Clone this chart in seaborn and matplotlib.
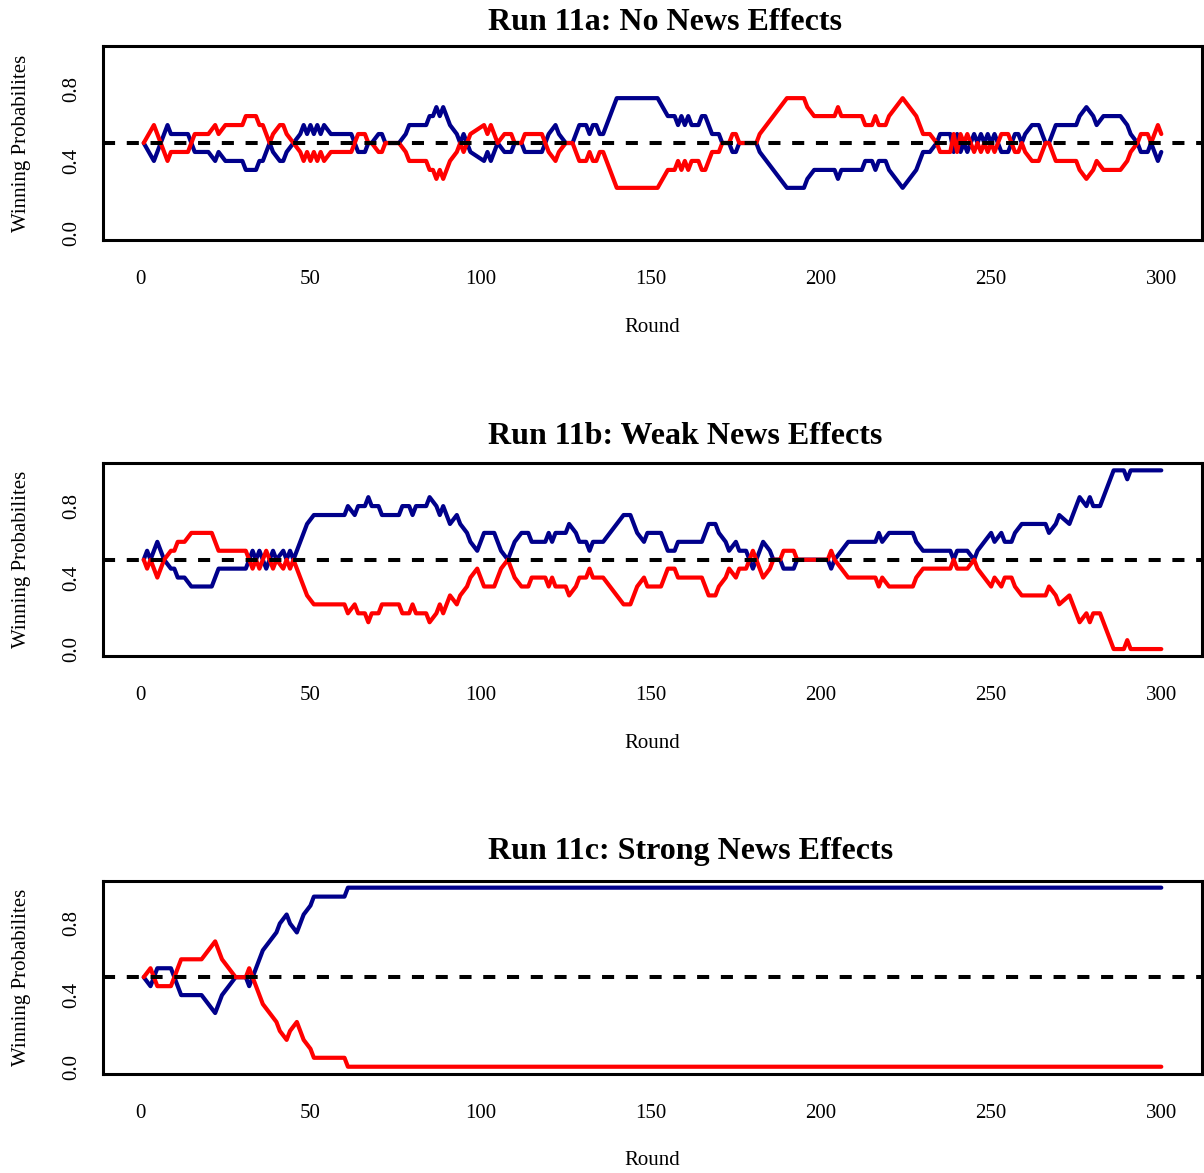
import numpy as np
import pandas as pd
import matplotlib
matplotlib.use("Agg")
import matplotlib.pyplot as plt
import seaborn as sns

# ---------------- data (key points) ----------------
titles = ["Run 11a: No News Effects", "Run 11b: Weak News Effects", "Run 11c: Strong News Effects"]

run_a_rounds = [1,4,8,9,14,16,20,22,23,25, 30,31,34,35,36,37,38,39,41,42, 43,45,47,48,49,50,51,52,53,54,
                56,62,63,64,66,67,68,70,71,72, 76,78,79,84,85,86,87,88,89,90, 91,93,94,95,96,97,101,102,103,104,
                105,107,109,110,112,113,118,119,120,122, 123,125,127,128,129,131,132,133,134,135,
                136,140,152,155,157,158,159,160,161,162, 164,165,166,167,168,170,171,173,174,175,
                176,181,182,184,186,188,190,195,196,198, 204,205,206,212,213,215,216,217,219,220,
                222,224,226,228,229,230,232,234,235,238, 239,240,241,242,243,244,245,246,247,248,
                249,250,251,252,253,255,256,257,258,259, 260,262,264,265,266,267,268,269,275,276,
                278,280,281,283,288,290,291,293,294,296, 297,298,299,300]
run_a_blue = [0.5,0.4,0.6,0.55,0.55,0.45,0.45,0.4,0.45,0.4, 0.4,0.35,0.35,0.4,0.4,0.45,0.5,0.45,0.4,0.4,
              0.45,0.5,0.55,0.6,0.55,0.6,0.55,0.6,0.55,0.6, 0.55,0.55,0.5,0.45,0.45,0.5,0.5,0.55,0.55,0.5,
              0.5,0.55,0.6,0.6,0.65,0.65,0.7,0.65,0.7,0.65, 0.6,0.55,0.5,0.55,0.5,0.45,0.4,0.45,0.4,0.45,
              0.5,0.45,0.45,0.5,0.5,0.45,0.45,0.5,0.55,0.6, 0.55,0.5,0.5,0.55,0.6,0.6,0.55,0.6,0.6,0.55,
              0.55,0.75,0.75,0.65,0.65,0.6,0.65,0.6,0.65,0.6, 0.6,0.65,0.65,0.6,0.55,0.55,0.5,0.5,0.45,0.45,
              0.5,0.5,0.45,0.4,0.35,0.3,0.25,0.25,0.3,0.35, 0.35,0.3,0.35,0.35,0.4,0.4,0.35,0.4,0.4,0.35,
              0.3,0.25,0.3,0.35,0.4,0.45,0.45,0.5,0.55,0.55, 0.45,0.55,0.45,0.5,0.45,0.5,0.55,0.5,0.55,0.5,
              0.55,0.5,0.55,0.5,0.45,0.45,0.5,0.55,0.55,0.5, 0.55,0.6,0.6,0.55,0.5,0.5,0.55,0.6,0.6,0.65,
              0.7,0.65,0.6,0.65,0.65,0.6,0.55,0.5,0.45,0.45, 0.5,0.45,0.4,0.45]
run_a_red = [0.5,0.6,0.4,0.45,0.45,0.55,0.55,0.6,0.55,0.6, 0.6,0.65,0.65,0.6,0.6,0.55,0.5,0.55,0.6,0.6,
             0.55,0.5,0.45,0.4,0.45,0.4,0.45,0.4,0.45,0.4, 0.45,0.45,0.5,0.55,0.55,0.5,0.5,0.45,0.45,0.5,
             0.5,0.45,0.4,0.4,0.35,0.35,0.3,0.35,0.3,0.35, 0.4,0.45,0.5,0.45,0.5,0.55,0.6,0.55,0.6,0.55,
             0.5,0.55,0.55,0.5,0.5,0.55,0.55,0.5,0.45,0.4, 0.45,0.5,0.5,0.45,0.4,0.4,0.45,0.4,0.4,0.45,
             0.45,0.25,0.25,0.35,0.35,0.4,0.35,0.4,0.35,0.4, 0.4,0.35,0.35,0.4,0.45,0.45,0.5,0.5,0.55,0.55,
             0.5,0.5,0.55,0.6,0.65,0.7,0.75,0.75,0.7,0.65, 0.65,0.7,0.65,0.65,0.6,0.6,0.65,0.6,0.6,0.65,
             0.7,0.75,0.7,0.65,0.6,0.55,0.55,0.5,0.45,0.45, 0.55,0.45,0.55,0.5,0.55,0.5,0.45,0.5,0.45,0.5,
             0.45,0.5,0.45,0.5,0.55,0.55,0.5,0.45,0.45,0.5, 0.45,0.4,0.4,0.45,0.5,0.5,0.45,0.4,0.4,0.35,
             0.3,0.35,0.4,0.35,0.35,0.4,0.45,0.5,0.55,0.55, 0.5,0.55,0.6,0.55]

run_b_rounds = [1,2,3,4,5,6,7,9,10,11, 13,15,21,22,23,31,32,33,34,35, 36,37,38,39,40,42,43,44,45,46,
                47,48,49,51,60,61,63,64,66,67, 68,70,71,76,77,79,80,81,84,85, 87,88,89,90,91,93,94,96,97,99,
                100,101,104,105,106,108,109,110,112,114, 115,119,120,121,122,125,126,128,129,131,
                132,133,136,138,140,142,144,145,146,148, 149,153,154,155,157,158,165,166,167,169,
                170,172,173,175,176,178,179,180,181,182, 183,185,186,188,189,192,193,202,203,204,
                206,208,216,217,218,220,227,228,230,238, 239,240,243,245,246,248,250,251,253,254,
                256,257,259,266,267,269,270,273,274,275, 276,278,279,280,282,283,284,285,286,289,
                290,291,300]
run_b_blue = [0.5,0.55,0.5,0.55,0.6,0.55,0.5,0.45,0.45,0.4, 0.4,0.35,0.35,0.4,0.45,0.45,0.5,0.55,0.5,0.55,
              0.5,0.45,0.5,0.55,0.5,0.55,0.5,0.55,0.5,0.55, 0.6,0.65,0.7,0.75,0.75,0.8,0.75,0.8,0.8,0.85,
              0.8,0.8,0.75,0.75,0.8,0.8,0.75,0.8,0.8,0.85, 0.8,0.75,0.8,0.75,0.7,0.75,0.7,0.65,0.6,0.55,
              0.6,0.65,0.65,0.6,0.55,0.5,0.55,0.6,0.65,0.65, 0.6,0.6,0.65,0.6,0.65,0.65,0.7,0.65,0.6,0.6,
              0.55,0.6,0.6,0.65,0.7,0.75,0.75,0.7,0.65,0.6, 0.65,0.65,0.6,0.55,0.55,0.6,0.6,0.65,0.7,0.7,
              0.65,0.6,0.55,0.6,0.55,0.55,0.5,0.45,0.5,0.55, 0.6,0.55,0.5,0.5,0.45,0.45,0.5,0.5,0.45,0.5,
              0.55,0.6,0.6,0.65,0.6,0.65,0.65,0.6,0.55,0.55, 0.5,0.55,0.55,0.5,0.55,0.6,0.65,0.6,0.65,0.6,
              0.6,0.65,0.7,0.7,0.65,0.7,0.75,0.7,0.75,0.8, 0.85,0.8,0.85,0.8,0.8,0.85,0.9,0.95,1.0,1.0,
              0.95,1.0,1.0]
run_b_red = [0.5,0.45,0.5,0.45,0.4,0.45,0.5,0.55,0.55,0.6, 0.6,0.65,0.65,0.6,0.55,0.55,0.5,0.45,0.5,0.45,
             0.5,0.55,0.5,0.45,0.5,0.45,0.5,0.45,0.5,0.45, 0.4,0.35,0.3,0.25,0.25,0.2,0.25,0.2,0.2,0.15,
             0.2,0.2,0.25,0.25,0.2,0.2,0.25,0.2,0.2,0.15, 0.2,0.25,0.2,0.25,0.3,0.25,0.3,0.35,0.4,0.45,
             0.4,0.35,0.35,0.4,0.45,0.5,0.45,0.4,0.35,0.35, 0.4,0.4,0.35,0.4,0.35,0.35,0.3,0.35,0.4,0.4,
             0.45,0.4,0.4,0.35,0.3,0.25,0.25,0.3,0.35,0.4, 0.35,0.35,0.4,0.45,0.45,0.4,0.4,0.35,0.3,0.3,
             0.35,0.4,0.45,0.4,0.45,0.45,0.5,0.55,0.5,0.45, 0.4,0.45,0.5,0.5,0.55,0.55,0.5,0.5,0.55,0.5,
             0.45,0.4,0.4,0.35,0.4,0.35,0.35,0.4,0.45,0.45, 0.5,0.45,0.45,0.5,0.45,0.4,0.35,0.4,0.35,0.4,
             0.4,0.35,0.3,0.3,0.35,0.3,0.25,0.3,0.25,0.2, 0.15,0.2,0.15,0.2,0.2,0.15,0.1,0.05,0.0,0.0,
             0.05,0.0,0.0]

run_c_rounds = [1,3,5,9,10,11,12,18,20,22, 23,24,26,28,31,32,33,34,35,36, 38,40,41,43,44,46,47,48,50,51,
                60,61,300]
run_c_blue = [0.5,0.45,0.55,0.55,0.5,0.45,0.4,0.4,0.35,0.3, 0.35,0.4,0.45,0.5,0.5,0.45,0.5,0.55,0.6,0.65,
              0.7,0.75,0.8,0.85,0.8,0.75,0.8,0.85,0.9,0.95, 0.95,1.0,1.0]
run_c_red = [0.5,0.55,0.45,0.45,0.5,0.55,0.6,0.6,0.65,0.7, 0.65,0.6,0.55,0.5,0.5,0.55,0.5,0.45,0.4,0.35,
             0.3,0.25,0.2,0.15,0.2,0.25,0.2,0.15,0.1,0.05, 0.05,0.0,0.0]

x_ticks = [0, 50, 100, 150, 200, 250, 300]
y_ticks = [0.0, 0.2, 0.4, 0.6, 0.8, 1.0]
y_tick_labels = ["0.0", "", "0.4", "", "0.8", ""]
reference_level = 0.5

runs = [(run_a_rounds, run_a_blue, run_a_red),
        (run_b_rounds, run_b_blue, run_b_red),
        (run_c_rounds, run_c_blue, run_c_red)]
for r, b, d in runs:
    assert len(r) == len(b) == len(d), (len(r), len(b), len(d))

# ---------------- style ----------------
sns.set_style("white")
plt.rcParams['font.family'] = ['Liberation Serif', 'DejaVu Serif']
plt.rcParams['lines.solid_capstyle'] = 'round'
plt.rcParams['lines.solid_joinstyle'] = 'round'
for k in ['text.color', 'axes.labelcolor', 'xtick.color', 'ytick.color', 'axes.edgecolor']:
    plt.rcParams[k] = 'black'

W, H = 1204, 1173
fig = plt.figure(figsize=(W / 100, H / 100), dpi=100)

# pixel layout: (axes top, axes bottom, title baseline)
layout = [(46.1, 239.9, 30.5), (463.2, 656.2, 443.5), (880.5, 1073.9, 858.5)]
left_px, right_px = 103, 1202
palette = {"blue": "#00008B", "red": "#FF0000"}

for (rounds, blue, red), title, (top, bot, tb) in zip(runs, titles, layout):
    ax = fig.add_axes([left_px / W, 1 - bot / H, (right_px - left_px) / W, (bot - top) / H])
    df = pd.DataFrame({
        "Round": rounds + rounds,
        "Probability": blue + red,
        "side": ["blue"] * len(rounds) + ["red"] * len(rounds),
    })
    sns.lineplot(data=df, x="Round", y="Probability", hue="side", hue_order=["blue", "red"],
                 palette=palette, linewidth=3.0, legend=False, estimator=None, sort=False, ax=ax)
    ax.axhline(reference_level, color="black", linewidth=2.9, linestyle=(0, (3.0, 2.9)),
               dash_capstyle="butt")
    ax.set_xlim(-10.96, 311.96)
    ax.set_ylim(-0.04, 1.04)
    ax.set_xticks(x_ticks)
    ax.set_xticklabels([str(t) for t in x_ticks])
    ax.set_yticks(y_ticks)
    ax.set_yticklabels(y_tick_labels, rotation=90, va="center")
    for s in ax.spines.values():
        s.set_visible(True)
        s.set_linewidth(2.2)
        s.set_color("black")
    ax.tick_params(axis="both", direction="out", length=8.5, width=2.2, color="black",
                   labelsize=15, labelcolor="black")
    ax.tick_params(axis="x", pad=13)
    ax.tick_params(axis="y", pad=7.5)
    ax.set_xlabel("Round", fontsize=15, color="black")
    ax.set_ylabel("Winning Probabilites", fontsize=15, color="black")
    ax.xaxis.label.set_va("center")
    ax.yaxis.label.set_va("center")
    ax.xaxis.set_label_coords(0.5, -0.45)
    ax.yaxis.set_label_coords((22 - left_px) / (right_px - left_px), 0.5)
    fig.text(488 / W, 1 - tb / H, title, fontsize=23, fontweight="bold", color="black",
             ha="left", va="baseline")

fig.savefig("out.png", dpi=100)
